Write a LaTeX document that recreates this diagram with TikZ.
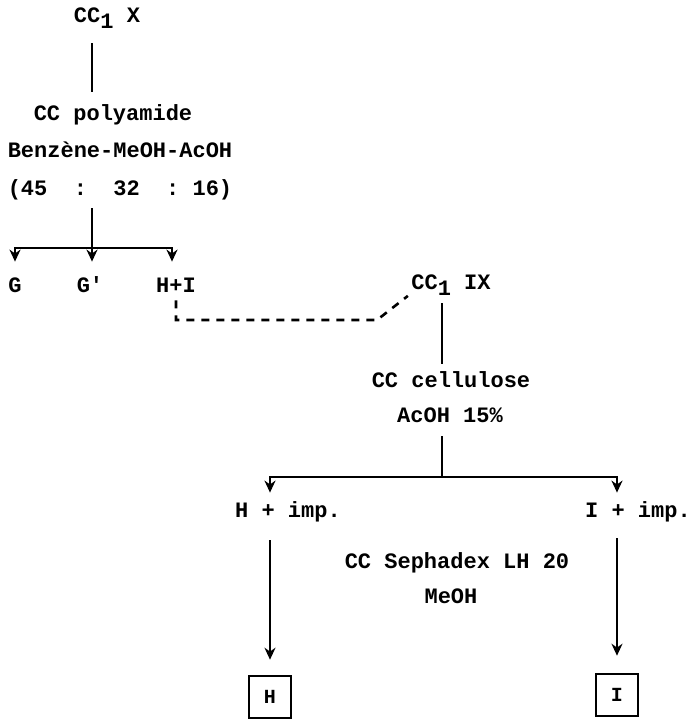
\documentclass[tikz,border=0pt]{standalone}
\usepackage{fontspec}
\setmonofont{Liberation Mono}
\usetikzlibrary{arrows.meta, positioning}
\newcommand\subone{\raisebox{-0.6ex}{1}}

\begin{document}
\begin{tikzpicture}[x=0.5pt, y=-0.5pt,
    chem/.style={anchor=base, inner sep=0pt, text height=7pt, text depth=2pt,
                 font=\ttfamily\bfseries\fontsize{11}{13}\selectfont},
    rule/.style={line width=1.3pt},
    arrow/.style={rule, -{Stealth[length=6pt, width=5.5pt]}},
    result/.style={draw, line width=1.3pt, inner sep=0pt, minimum size=21pt,
                   font=\ttfamily\bfseries\fontsize{10}{12}\selectfont},
]
    \useasboundingbox (0,0) rectangle (692,720);

    % Nodes
    \node[chem] (cc10)    at (107,22)  {CC\subone{} X};
    \node[chem] (poly)    at (113,120) {CC polyamide};
    \node[chem] (solvent) at (120,157) {Benzène-MeOH-AcOH};
    \node[chem] (ratio)   at (120,195) {(45~~:~~32~~:~16)};
    \node[chem] (G)       at (15,292)  {G};
    \node[chem] (Gp)      at (90,292)  {G'};
    \node[chem] (HI)      at (176,292) {H+I};

    \node[chem] (cc9)     at (451,289) {CC\subone{} IX};
    \node[chem] (cell)    at (451,387) {CC cellulose};
    \node[chem] (acoh)    at (450,422) {AcOH 15\%};
    \node[chem] (Himp)    at (288,517) {H + imp.};
    \node[chem] (Iimp)    at (638,517) {I + imp.};
    \node[chem] (seph)    at (457,568) {CC Sephadex LH 20};
    \node[chem] (meoh)    at (451,603) {MeOH};
    \node[result] (Hbox)  at (270,697) {H};
    \node[result] (Ibox)  at (617,695) {I};

    \coordinate (split1) at (92,248);
    \coordinate (split2) at (442,477);
    \coordinate (kink)   at (377,320);

    % Edges
    \draw[rule, shorten <=8.5pt, shorten >=7pt]
        (cc10.south -| split1) -- (poly.north -| split1);
    \draw[rule, shorten <=4.5pt] (ratio.south -| split1) -- (split1);
    \draw[arrow, shorten >=8pt] (split1) -| (G.north);
    \draw[arrow, shorten >=8pt] (split1) -- (split1 |- Gp.north);
    \draw[arrow, shorten >=8pt] (split1) -| ([xshift=-2pt]HI.north);
    \draw[rule, dash pattern=on 4pt off 3.5pt, shorten <=2pt, shorten >=2pt]
        (HI.south) |- (kink) -- (cc9.south west);

    \draw[rule, shorten <=5pt, shorten >=4.5pt]
        (cc9.south -| split2) -- (cell.north -| split2);
    \draw[rule, shorten <=5pt] (acoh.south -| split2) -- (split2);
    \draw[arrow, shorten >=5pt] (split2) -| (Hbox.north |- Himp.north);
    \draw[arrow, shorten >=5pt] (split2) -| (Ibox.north |- Iimp.north);
    \draw[arrow, shorten <=9.5pt, shorten >=7.5pt] (Hbox.north |- Himp.south) -- (Hbox);
    \draw[arrow, shorten <=8.5pt, shorten >=8.5pt] (Ibox.north |- Iimp.south) -- (Ibox);
\end{tikzpicture}
\end{document}
